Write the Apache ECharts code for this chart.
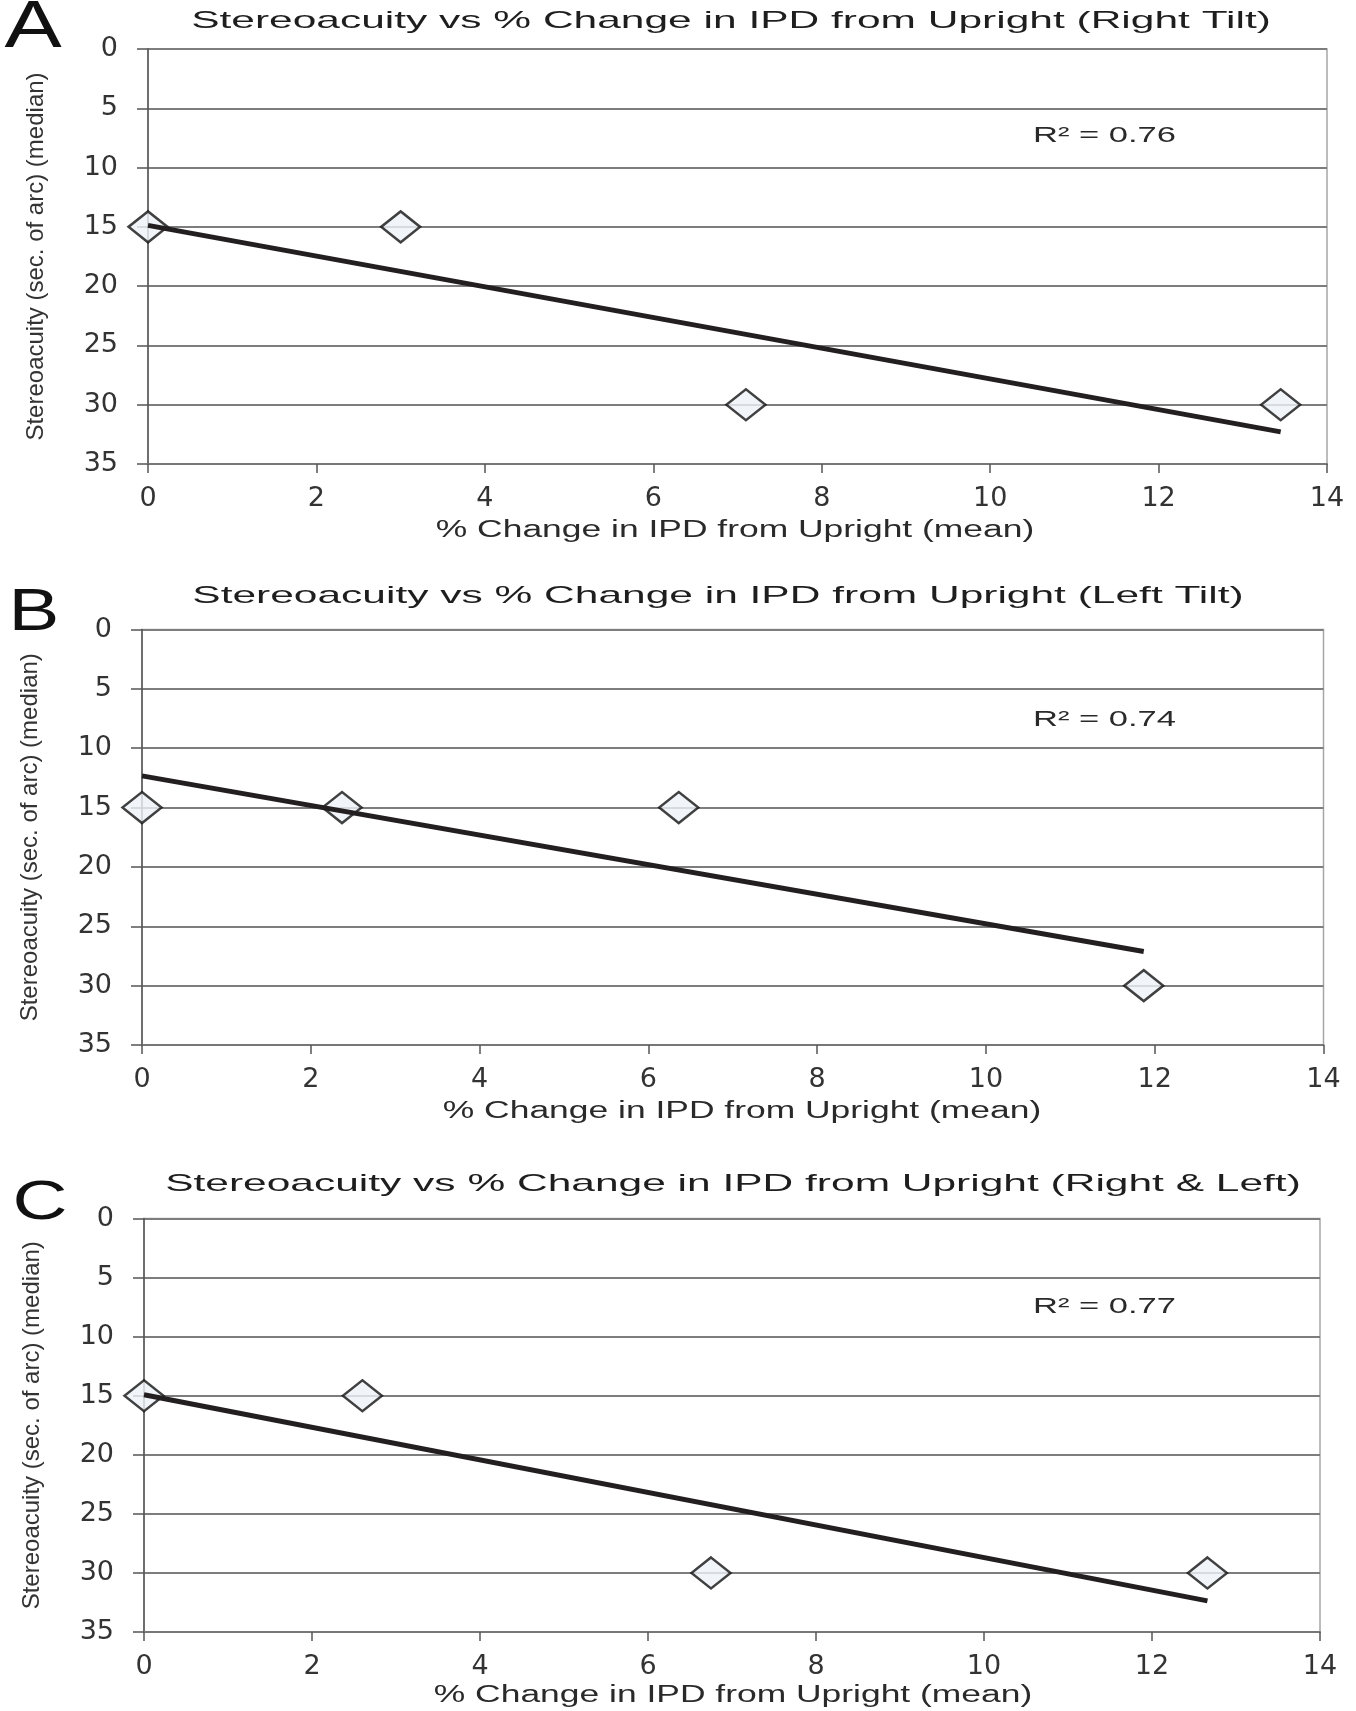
<!DOCTYPE html>
<html><head><meta charset="utf-8">
<script src="https://cdn.jsdelivr.net/npm/echarts@6/dist/echarts.min.js"></script>
<style>html,body{margin:0;padding:0;background:#fff}#c{width:1356px;height:1711px}</style>
</head><body><div id="c"></div>
<script>
// ---- data ----
const panelLetters = ['A', 'B', 'C'];
const titles = [
  'Stereoacuity vs % Change in IPD from Upright (Right Tilt)',
  'Stereoacuity vs % Change in IPD from Upright (Left Tilt)',
  'Stereoacuity vs % Change in IPD from Upright (Right & Left)'
];
const r2Labels = ['R\u00B2 = 0.76', 'R\u00B2 = 0.74', 'R\u00B2 = 0.77'];
const xAxisTitle = '% Change in IPD from Upright (mean)';
const yAxisTitle = 'Stereoacuity (sec. of arc) (median)';
const xRightTilt = [0, 3.0, 7.1, 13.45];
const yRightTilt = [15, 15, 30, 30];
const xLeftTilt = [0, 2.37, 6.36, 11.87];
const yLeftTilt = [15, 15, 15, 30];
const xBoth = [0, 2.6, 6.75, 12.66];
const yBoth = [15, 15, 30, 30];
const xTickMin = 0, xTickMax = 14, xTickStep = 2;
const yTickMin = 0, yTickMax = 35, yTickStep = 5;

const panelsX = [xRightTilt, xLeftTilt, xBoth];
const panelsY = [yRightTilt, yLeftTilt, yBoth];

// ---- layout ----
const grids = [
  {left: 148, top: 49, width: 1179, height: 415},
  {left: 142, top: 629.5, width: 1181.5, height: 415.5},
  {left: 144, top: 1218.5, width: 1176, height: 413.5}
];
const letterPos = [[33, 29, 66, 1.3], [34, 613, 60, 1.27], [40, 1204, 56, 1.36]];
const titlePos = [[731, 21], [718, 596], [733, 1184]];
const r2Pos = [[1033, 136], [1033, 720], [1033, 1307]];
const xNamePos = [[735, 531], [742, 1112], [733, 1696]];

function fit(xs, ys) {
  const n = xs.length;
  const mx = xs.reduce((a, b) => a + b, 0) / n;
  const my = ys.reduce((a, b) => a + b, 0) / n;
  let sxy = 0, sxx = 0;
  for (let i = 0; i < n; i++) { sxy += (xs[i] - mx) * (ys[i] - my); sxx += (xs[i] - mx) ** 2; }
  const b = sxy / sxx, a = my - b * mx;
  const x0 = Math.min(...xs), x1 = Math.max(...xs);
  return [[x0, a + b * x0], [x1, a + b * x1]];
}

const FONT = '"Liberation Sans", Arial, sans-serif';
const TICKFONT = '"DejaVu Sans", "Liberation Sans", sans-serif';

const option = {
  backgroundColor: '#ffffff',
  animation: false,
  grid: grids.map(g => Object.assign({show: true, borderColor: '#a6a6a6', borderWidth: 1.5, backgroundColor: 'transparent'}, g)),
  xAxis: grids.map((g, i) => ({
    type: 'value', gridIndex: i, min: xTickMin, max: xTickMax, interval: xTickStep,
    position: 'bottom',
    axisLine: {show: true, onZero: false, lineStyle: {color: '#777', width: 2}},
    axisTick: {show: true, length: 9, lineStyle: {color: '#555', width: 1.5}},
    axisLabel: {fontSize: 27, color: '#333', fontFamily: TICKFONT, margin: 21},
    splitLine: {show: false}
  })),
  yAxis: grids.map((g, i) => ({
    type: 'value', gridIndex: i, min: yTickMin, max: yTickMax, interval: yTickStep, inverse: true,
    axisLine: {show: true, onZero: false, lineStyle: {color: '#555', width: 1.5}},
    axisTick: {show: true, length: 11, lineStyle: {color: '#555', width: 1.5}},
    axisLabel: {fontSize: 27, color: '#333', fontFamily: TICKFONT, margin: 30},
    splitLine: {show: true, lineStyle: {color: '#7d7d7d', width: 2}},
    name: yAxisTitle, nameLocation: 'middle', nameRotate: 90, nameGap: 100,
    nameTextStyle: {fontSize: 24, color: '#333', fontFamily: FONT}
  })),
  series: [],
  graphic: []
};

panelsX.forEach((xs, i) => {
  const ys = panelsY[i];
  option.series.push({
    type: 'scatter', xAxisIndex: i, yAxisIndex: i,
    data: xs.map((x, k) => [x, ys[k]]),
    symbol: 'diamond', symbolSize: [39, 31],
    itemStyle: {color: '#eef3f8', borderColor: '#111', borderWidth: 2.5},
    z: 3
  });
  option.series.push({
    type: 'line', xAxisIndex: i, yAxisIndex: i,
    data: fit(xs, ys), showSymbol: false, symbol: 'none',
    lineStyle: {color: '#231f20', width: 5}, z: 4, silent: true
  });
  const lp = letterPos[i];
  option.graphic.push({type: 'text', x: lp[0], y: lp[1], scaleX: lp[3],
    style: {text: panelLetters[i], font: lp[2] + 'px ' + FONT, fill: '#111', align: 'center', verticalAlign: 'middle'}});
  option.graphic.push({type: 'text', x: titlePos[i][0], y: titlePos[i][1], scaleX: 1.77,
    style: {text: titles[i], font: '24px ' + FONT, fill: '#1e1e1e', align: 'center', verticalAlign: 'middle'}});
  option.graphic.push({type: 'text', x: r2Pos[i][0], y: r2Pos[i][1], scaleX: 1.57,
    style: {text: r2Labels[i], font: '22px ' + FONT, fill: '#2a2a2a', align: 'left', verticalAlign: 'middle'}});
  option.graphic.push({type: 'text', x: xNamePos[i][0], y: xNamePos[i][1], scaleX: 1.54,
    style: {text: xAxisTitle, font: '23px ' + FONT, fill: '#2a2a2a', align: 'center', verticalAlign: 'middle'}});
});

const chart = echarts.init(document.getElementById('c'), null, {renderer: 'canvas'});
chart.setOption(option);
</script>
</body></html>
